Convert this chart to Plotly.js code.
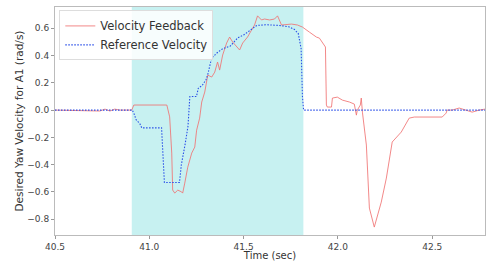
<!DOCTYPE html>
<html>
<head>
<meta charset="utf-8">
<script src="https://cdn.plot.ly/plotly-3.0.1.min.js"></script>
<style>html,body{margin:0;padding:0;background:#fff}#chart{width:486px;height:261px}</style>
</head>
<body>
<div id="chart"></div>
<script>
// Velocity Feedback (measured)
const fbTime = [40.5,40.685,40.738,40.765,40.791,40.817,40.844,40.907,40.918,41.093,41.108,41.119,41.124,41.135,41.151,41.172,41.177,41.188,41.204,41.225,41.241,41.251,41.267,41.278,41.294,41.310,41.331,41.347,41.362,41.373,41.389,41.410,41.426,41.442,41.479,41.495,41.521,41.542,41.558,41.574,41.595,41.611,41.638,41.664,41.680,41.701,41.754,41.786,41.812,41.849,41.886,41.902,41.918,41.934,41.939,41.944,41.966,41.971,41.997,42.024,42.061,42.087,42.098,42.103,42.119,42.124,42.130,42.151,42.167,42.193,42.230,42.257,42.288,42.310,42.336,42.378,42.405,42.553,42.574,42.579,42.606,42.643,42.680,42.712,42.749,42.78];
const fbValue = [0,-0.004,-0.007,0.007,-0.007,0.007,0,0,0.037,0.037,-0.05,-0.315,-0.586,-0.608,-0.586,-0.60,-0.608,-0.535,-0.418,-0.315,-0.271,-0.147,-0.059,0.059,0.132,0.256,0.242,0.278,0.352,0.293,0.403,0.491,0.535,0.498,0.44,0.491,0.535,0.586,0.623,0.69,0.66,0.667,0.66,0.667,0.69,0.623,0.63,0.623,0.608,0.571,0.535,0.527,0.498,0.462,0.037,0.022,0.022,0.088,0.095,0.073,0.059,0.044,-0.037,0,0.037,0.088,-0.015,-0.256,-0.718,-0.857,-0.674,-0.498,-0.234,-0.198,-0.161,-0.059,-0.051,-0.051,-0.022,0,0,0.015,0,-0.015,0,0.007];
// Reference Velocity
const refTime = [40.5,40.91,40.92,40.93,40.95,40.96,41.065,41.08,41.16,41.17,41.19,41.205,41.215,41.25,41.26,41.28,41.30,41.31,41.33,41.36,41.39,41.43,41.47,41.50,41.52,41.55,41.57,41.62,41.69,41.74,41.77,41.79,41.805,41.812,41.818,42.78];
const refValue = [0,0,-0.03,-0.07,-0.10,-0.13,-0.13,-0.53,-0.53,-0.40,-0.25,-0.12,0.10,0.10,0.16,0.18,0.22,0.26,0.38,0.42,0.45,0.47,0.53,0.55,0.57,0.60,0.62,0.625,0.62,0.61,0.59,0.56,0.45,0.10,0,0];
// Highlighted interval
const shadeRange = [40.907, 41.817];
const xTicks = [40.5, 41.0, 41.5, 42.0, 42.5];
const yTicks = [-0.8, -0.6, -0.4, -0.2, 0.0, 0.2, 0.4, 0.6];

const fam = 'DejaVu Sans, sans-serif';
const traces = [
  {x: fbTime, y: fbValue, mode: 'lines', name: 'Velocity Feedback',
   line: {color: 'rgba(240,115,115,0.85)', width: 1}},
  {x: refTime, y: refValue, mode: 'lines', name: 'Reference Velocity',
   line: {color: '#2a4fe8', width: 1.1, dash: '1.5px,1.5px'}}
];
const layout = {
  width: 486, height: 261,
  margin: {l: 55, r: 1, t: 7, b: 26},
  paper_bgcolor: '#fff', plot_bgcolor: '#fff',
  font: {family: fam, size: 9, color: '#444'},
  showlegend: true,
  legend: {x: 0.01, y: 0.985, xanchor: 'left', yanchor: 'top',
           bgcolor: 'rgba(255,255,255,0.85)', bordercolor: '#ddd', borderwidth: 1,
           font: {family: fam, size: 11.5, color: '#333'},
           tracegroupgap: 0},
  xaxis: {range: [40.5, 42.78], tickvals: xTicks, tickformat: '.1f',
          showgrid: false, zeroline: false, showline: true, mirror: true,
          linecolor: '#bbb', linewidth: 1, ticks: 'outside', ticklen: 3, tickcolor: '#999',
          title: {text: 'Time (sec)', font: {family: fam, size: 10, color: '#333'}, standoff: 0}},
  yaxis: {range: [-0.915, 0.755], tickvals: yTicks, tickformat: '.1f',
          showgrid: false, zeroline: false, showline: true, mirror: true,
          linecolor: '#bbb', linewidth: 1, ticks: 'outside', ticklen: 3, tickcolor: '#999',
          title: {text: 'Desired Yaw Velocity for A1 (rad/s)', font: {family: fam, size: 10.5, color: '#333'}, standoff: 1}},
  shapes: [{type: 'rect', xref: 'x', yref: 'paper', x0: shadeRange[0], x1: shadeRange[1], y0: 0, y1: 1,
            fillcolor: 'rgba(0,190,190,0.22)', line: {width: 0}, layer: 'below'}]
};
Plotly.newPlot('chart', traces, layout, {displayModeBar: false, staticPlot: true});
</script>
</body>
</html>
